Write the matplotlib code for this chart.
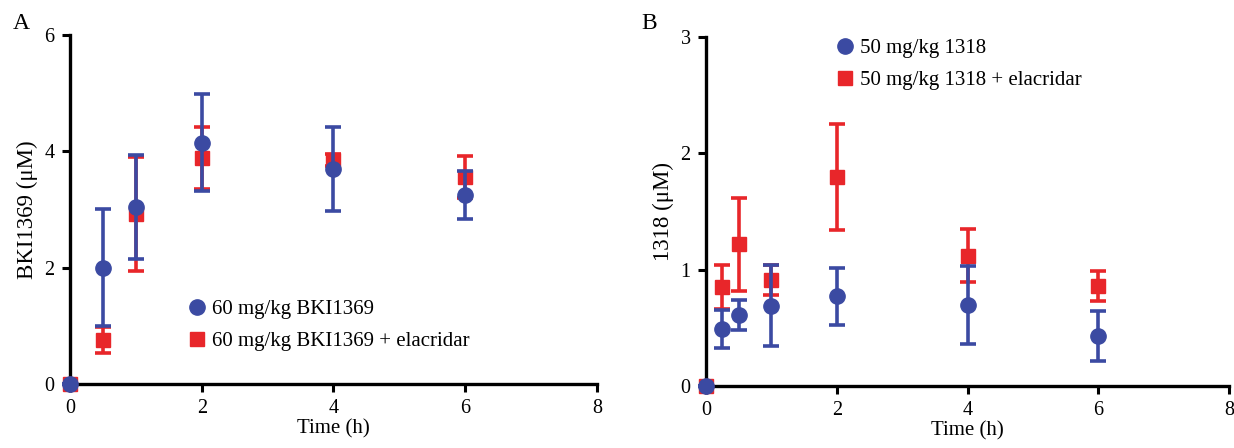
import matplotlib
matplotlib.use("Agg")
import matplotlib.pyplot as plt
from matplotlib.lines import Line2D

plt.rcParams['font.family'] = ['Liberation Serif', 'DejaVu Serif']

BLUE = '#3b4aa2'
RED = '#e8262a'

# Panel A: BKI1369
time_a = [0, 0.5, 1, 2, 4, 6]
bki_mean = [0.0, 2.0, 3.04, 4.15, 3.70, 3.25]
bki_sd = [0.0, 1.0, 0.89, 0.83, 0.72, 0.41]
bki_elac_mean = [0.0, 0.76, 2.92, 3.88, 3.85, 3.56]
bki_elac_sd = [0.0, 0.22, 0.98, 0.53, 0.10, 0.36]

# Panel B: 1318
time_b = [0, 0.25, 0.5, 1, 2, 4, 6]
c1318_mean = [0.0, 0.49, 0.61, 0.69, 0.77, 0.70, 0.43]
c1318_sd = [0.0, 0.165, 0.13, 0.35, 0.245, 0.335, 0.215]
c1318_elac_mean = [0.0, 0.85, 1.22, 0.91, 1.80, 1.12, 0.86]
c1318_elac_sd = [0.0, 0.19, 0.40, 0.13, 0.455, 0.23, 0.13]

x_ticks = [0, 2, 4, 6, 8]

fig = plt.figure(figsize=(12.34, 4.48), dpi=100)
ax_a = fig.add_axes([0.0567, 0.1429, 0.4271, 0.7791])
ax_b = fig.add_axes([0.5721, 0.1384, 0.4239, 0.7790])


def style_axes(ax, ymax, yticks, ylabel):
    ax.set_xlim(0, 8)
    ax.set_ylim(0, ymax)
    ax.set_xticks(x_ticks)
    ax.set_yticks(yticks)
    for s in ('top', 'right'):
        ax.spines[s].set_visible(False)
    for s in ('left', 'bottom'):
        ax.spines[s].set_linewidth(2.4)
        ax.spines[s].set_color('black')
    ax.tick_params(direction='out', length=6, width=2.2, labelsize=14.5,
                   colors='black', pad=5)
    ax.set_xlabel('Time (h)', fontsize=15, labelpad=1)
    ax.set_ylabel(ylabel, fontsize=16.5, labelpad=5)


def draw_series(ax, t, m, sd, color, marker, ms, z):
    ax.errorbar(t, m, yerr=sd, fmt=marker, color=color, ecolor=color,
                markersize=ms, markeredgecolor=color, elinewidth=2.6,
                capsize=6, capthick=2.6, clip_on=False, zorder=z)


def legend_handles(labels):
    return [Line2D([], [], linestyle='none', marker='o', color=BLUE,
                   markersize=11, label=labels[0]),
            Line2D([], [], linestyle='none', marker='s', color=RED,
                   markersize=10, label=labels[1])]


draw_series(ax_a, time_a, bki_elac_mean, bki_elac_sd, RED, 's', 10, 3)
draw_series(ax_a, time_a, bki_mean, bki_sd, BLUE, 'o', 11, 4)
style_axes(ax_a, 6, [0, 2, 4, 6], 'BKI1369 (μM)')
ax_a.legend(handles=legend_handles(['60 mg/kg BKI1369',
                                    '60 mg/kg BKI1369 + elacridar']),
            loc='lower left', bbox_to_anchor=(0.18, 0.04),
            frameon=False, fontsize=15, handletextpad=0.05,
            handlelength=1.3, labelspacing=0.6)

draw_series(ax_b, time_b, c1318_elac_mean, c1318_elac_sd, RED, 's', 10, 3)
draw_series(ax_b, time_b, c1318_mean, c1318_sd, BLUE, 'o', 11, 4)
style_axes(ax_b, 3, [0, 1, 2, 3], '1318 (μM)')
ax_b.legend(handles=legend_handles(['50 mg/kg 1318',
                                    '50 mg/kg 1318 + elacridar']),
            loc='upper left', bbox_to_anchor=(0.205, 1.05),
            frameon=False, fontsize=15, handletextpad=0.05,
            handlelength=1.3, labelspacing=0.6)

fig.text(0.010, 0.935, 'A', fontsize=17)
fig.text(0.520, 0.935, 'B', fontsize=17)

fig.savefig('out.png', dpi=100)
